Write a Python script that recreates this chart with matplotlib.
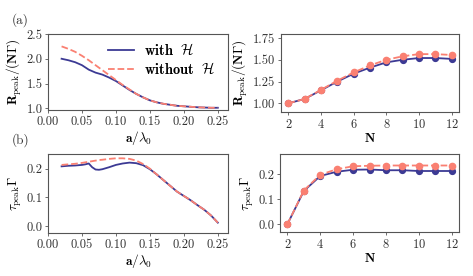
import matplotlib
matplotlib.use("Agg")
import matplotlib.pyplot as plt
import numpy as np

plt.rcParams['font.family'] = 'serif'
plt.rcParams['font.serif'] = ['cmr10']
plt.rcParams['mathtext.fontset'] = 'cm'
plt.rcParams['axes.formatter.use_mathtext'] = True
plt.rcParams['axes.unicode_minus'] = False

BLUE = '#3c3a94'
SALMON = '#fa8072'

# --- panel (a)/(b), left: vs a/lambda0
a = [0.02, 0.03, 0.04, 0.05, 0.06, 0.07, 0.08, 0.09, 0.10, 0.11, 0.12, 0.13,
     0.14, 0.15, 0.16, 0.17, 0.18, 0.19, 0.20, 0.21, 0.22, 0.23, 0.24, 0.25]
R_with = [2.00, 1.97, 1.93, 1.87, 1.78, 1.72, 1.68, 1.62, 1.55, 1.46, 1.37, 1.29,
          1.22, 1.16, 1.12, 1.09, 1.07, 1.05, 1.04, 1.03, 1.02, 1.015, 1.01, 1.01]
R_without = [2.25, 2.20, 2.14, 2.06, 1.97, 1.87, 1.77, 1.67, 1.57, 1.47, 1.38, 1.29,
             1.22, 1.16, 1.12, 1.09, 1.07, 1.05, 1.04, 1.03, 1.02, 1.015, 1.01, 1.01]

a_tau = [0.02, 0.03, 0.04, 0.05, 0.055, 0.06, 0.065, 0.07, 0.075, 0.08, 0.09, 0.10,
         0.11, 0.12, 0.13, 0.14, 0.15, 0.16, 0.17, 0.18, 0.19, 0.20, 0.21, 0.22,
         0.23, 0.24, 0.25]
tau_with = [0.208, 0.210, 0.211, 0.213, 0.215, 0.218, 0.205, 0.197, 0.196, 0.198,
            0.205, 0.213, 0.218, 0.221, 0.219, 0.212, 0.198, 0.180, 0.160, 0.140,
            0.120, 0.105, 0.090, 0.073, 0.057, 0.037, 0.012]
tau_without = [0.213, 0.215, 0.217, 0.220, 0.222, 0.224, 0.226, 0.228, 0.230, 0.231,
               0.234, 0.236, 0.236, 0.234, 0.228, 0.216, 0.200, 0.180, 0.160, 0.140,
               0.120, 0.105, 0.090, 0.073, 0.057, 0.037, 0.012]

# --- right: vs N
N = [2, 3, 4, 5, 6, 7, 8, 9, 10, 11, 12]
RN_with = [1.00, 1.05, 1.15, 1.25, 1.34, 1.41, 1.47, 1.50, 1.52, 1.52, 1.51]
RN_without = [1.00, 1.05, 1.155, 1.26, 1.355, 1.435, 1.50, 1.54, 1.565, 1.565, 1.555]
tauN_with = [0.0, 0.133, 0.193, 0.210, 0.218, 0.219, 0.216, 0.216, 0.213, 0.213, 0.213]
tauN_without = [0.0, 0.135, 0.198, 0.220, 0.232, 0.234, 0.235, 0.235, 0.235, 0.235, 0.235]

fig = plt.figure(figsize=(4.73, 2.76), dpi=100)
W, H = 473.0, 276.0

def make_ax(x0, x1, ytop, ybot):
    return fig.add_axes([x0 / W, 1 - ybot / H, (x1 - x0) / W, (ybot - ytop) / H])

ax1 = make_ax(48, 228, 34, 110)
ax2 = make_ax(281, 459, 34, 112)
ax3 = make_ax(48, 228, 154, 233)
ax4 = make_ax(280, 459, 154, 232)

for ax in (ax1, ax2, ax3, ax4):
    for s in ax.spines.values():
        s.set_color('#555555')
        s.set_linewidth(0.8)
    ax.tick_params(labelsize=9, length=2.5, width=0.6, color='#555555',
                   labelcolor='#333333', pad=1.5)

ax1.plot(a, R_with, color=BLUE, lw=1.3, label=r'$\mathbf{with}\ \ \mathcal{H}$')
ax1.plot(a, R_without, color=SALMON, lw=1.3, ls='--', label=r'$\mathbf{without}\ \ \mathcal{H}$')
ax1.set_xlim(0, 0.265)
ax1.set_ylim(0.965, 2.5)
ax1.set_xticks([0.0, 0.05, 0.10, 0.15, 0.20, 0.25])
ax1.set_xticklabels(['0.00', '0.05', '0.10', '0.15', '0.20', '0.25'])
ax1.set_yticks([1.0, 1.5, 2.0, 2.5])
ax1.set_yticklabels(['1.0', '1.5', '2.0', '2.5'])
ax1.set_xlabel(r'$\mathbf{a}/\lambda_\mathbf{0}$', fontsize=9.5, labelpad=1)
ax1.set_ylabel(r'$\mathbf{R}_{\rm peak}/(\mathbf{N\Gamma})$', fontsize=9.5, labelpad=2)
ax1.legend(loc='upper right', frameon=False, fontsize=10.4, handlelength=1.8,
           handletextpad=0.7, borderaxespad=0, borderpad=0.4, labelspacing=0.2,
           bbox_to_anchor=(0.96, 0.97))

ax3.plot(a_tau, tau_with, color=BLUE, lw=1.3)
ax3.plot(a_tau, tau_without, color=SALMON, lw=1.3, ls='--')
ax3.set_xlim(0, 0.265)
ax3.set_ylim(-0.024, 0.251)
ax3.set_xticks([0.0, 0.05, 0.10, 0.15, 0.20, 0.25])
ax3.set_xticklabels(['0.00', '0.05', '0.10', '0.15', '0.20', '0.25'])
ax3.set_yticks([0.0, 0.1, 0.2])
ax3.set_yticklabels(['0.0', '0.1', '0.2'])
ax3.set_xlabel(r'$\mathbf{a}/\lambda_\mathbf{0}$', fontsize=9.5, labelpad=1)
ax3.set_ylabel(r'$\tau_{\rm peak}\mathbf{\Gamma}$', fontsize=9.5, labelpad=2)

ax2.plot(N, RN_with, color=BLUE, lw=1.3, marker='o', ms=4.2)
ax2.plot(N, RN_without, color=SALMON, lw=1.3, ls='--', marker='o', ms=4.5)
ax2.set_xlim(1.55, 12.45)
ax2.set_ylim(0.90, 1.796)
ax2.set_xticks([2, 4, 6, 8, 10, 12])
ax2.set_yticks([1.0, 1.25, 1.5, 1.75])
ax2.set_yticklabels(['1.00', '1.25', '1.50', '1.75'])
ax2.set_xlabel(r'$\mathbf{N}$', fontsize=9.5, labelpad=1)
ax2.set_ylabel(r'$\mathbf{R}_{\rm peak}/(\mathbf{N\Gamma})$', fontsize=9.5, labelpad=2)

ax4.plot(N, tauN_with, color=BLUE, lw=1.3, marker='o', ms=4.2)
ax4.plot(N, tauN_without, color=SALMON, lw=1.3, ls='--', marker='o', ms=4.5)
ax4.set_xlim(1.55, 12.45)
ax4.set_ylim(-0.031, 0.281)
ax4.set_xticks([2, 4, 6, 8, 10, 12])
ax4.set_yticks([0.0, 0.1, 0.2])
ax4.set_yticklabels(['0.0', '0.1', '0.2'])
ax4.set_xlabel(r'$\mathbf{N}$', fontsize=9.5, labelpad=1)
ax4.set_ylabel(r'$\tau_{\rm peak}\mathbf{\Gamma}$', fontsize=9.5, labelpad=2)

fig.text(12 / W, 1 - 20 / H, '(a)', fontsize=9.5, va='center', ha='left', color='#333333')
fig.text(12 / W, 1 - 140 / H, '(b)', fontsize=9.5, va='center', ha='left', color='#333333')

fig.savefig('out.png', dpi=100)
